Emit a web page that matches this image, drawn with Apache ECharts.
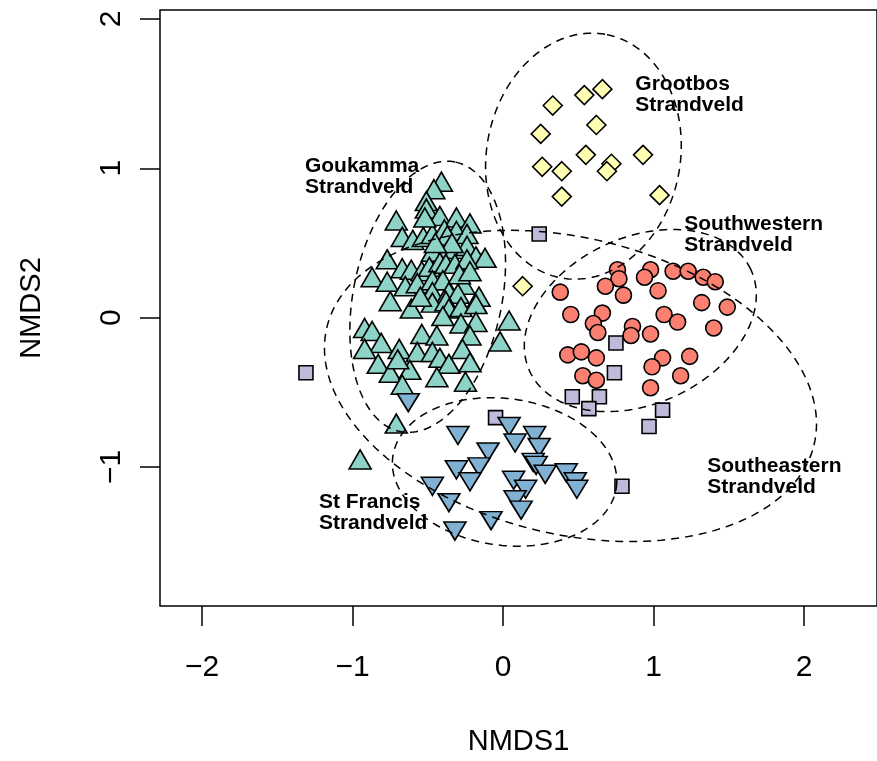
<!DOCTYPE html>
<html>
<head>
<meta charset="utf-8">
<script src="https://cdn.jsdelivr.net/npm/echarts@6.0.0/dist/echarts.min.js"></script>
<style>
html, body { margin: 0; padding: 0; background: #fff; }
#chart { width: 877px; height: 761px; }
</style>
</head>
<body>
<div id="chart"></div>
<script>
// NMDS scores, one array per site group: [NMDS1, NMDS2]
var goukamma = [
  [-0.41,0.91],[-0.46,0.86],[-0.51,0.78],[-0.51,0.73],[-0.71,0.65],[-0.42,0.68],[-0.31,0.67],[-0.22,0.63],
  [-0.67,0.54],[-0.60,0.52],[-0.53,0.54],[-0.47,0.56],[-0.39,0.59],[-0.31,0.58],[-0.24,0.56],[-0.37,0.55],
  [-0.47,0.44],[-0.38,0.43],[-0.32,0.46],[-0.24,0.48],[-0.18,0.41],[-0.12,0.40],[-0.77,0.39],[-0.67,0.33],
  [-0.61,0.32],[-0.54,0.31],[-0.49,0.34],[-0.42,0.37],[-0.38,0.36],[-0.32,0.36],[-0.24,0.39],[-0.87,0.27],
  [-0.77,0.24],[-0.65,0.21],[-0.57,0.23],[-0.47,0.25],[-0.40,0.25],[-0.26,0.22],[-0.47,0.17],[-0.36,0.17],
  [-0.39,0.12],[-0.30,0.16],[-0.16,0.14],[-0.75,0.11],[-0.61,0.06],[-0.47,0.10],[-0.38,0.11],[-0.36,0.06],
  [-0.28,0.07],[-0.18,0.09],[-0.40,0.01],[-0.28,-0.04],[-0.18,-0.03],[0.04,-0.02],[-0.92,-0.07],[-0.87,-0.09],
  [-0.81,-0.17],[-0.54,-0.11],[-0.44,-0.12],[-0.22,-0.12],[-0.02,-0.16],[-0.92,-0.21],[-0.69,-0.21],[-0.57,-0.23],
  [-0.47,-0.23],[-0.42,-0.27],[-0.36,-0.31],[-0.27,-0.21],[-0.22,-0.30],[-0.83,-0.31],[-0.75,-0.37],[-0.62,-0.35],
  [-0.70,-0.28],[-0.44,-0.40],[-0.25,-0.43],[-0.67,-0.45],[-0.71,-0.71],[-0.95,-0.95],[-0.52,0.67],[-0.34,0.50],
  [-0.45,0.50],[-0.29,0.29],[-0.55,0.14],[-0.22,0.31]
];
var grootbos = [
  [0.66,1.53],[0.54,1.49],[0.33,1.42],[0.25,1.23],[0.62,1.29],[0.55,1.09],[0.93,1.09],
  [0.72,1.03],[0.69,0.98],[0.26,1.01],[0.39,0.98],[0.39,0.81],[1.04,0.82],[0.13,0.21]
];
var southwestern = [
  [0.76,0.32],[0.77,0.26],[0.68,0.21],[0.80,0.15],[0.98,0.32],[0.94,0.27],[1.13,0.31],[1.23,0.31],
  [1.33,0.27],[1.41,0.24],[0.38,0.17],[1.03,0.18],[1.32,0.10],[1.49,0.07],[0.45,0.02],[0.66,0.03],
  [0.60,-0.04],[0.63,-0.10],[0.86,-0.06],[0.85,-0.12],[0.98,-0.11],[1.07,0.02],[1.16,-0.03],[1.40,-0.07],
  [0.43,-0.25],[0.52,-0.23],[0.62,-0.27],[1.06,-0.27],[0.99,-0.33],[1.24,-0.26],[0.53,-0.39],[0.62,-0.42],
  [1.18,-0.39],[0.98,-0.47]
];
var southeastern = [
  [0.24,0.56],[-1.31,-0.37],[0.75,-0.17],[0.74,-0.37],[0.46,-0.53],[0.64,-0.53],
  [0.57,-0.61],[1.06,-0.62],[0.97,-0.73],[0.79,-1.13],[-0.05,-0.67]
];
var stFrancis = [
  [-0.63,-0.57],[-0.30,-0.79],[0.04,-0.73],[0.08,-0.84],[0.21,-0.79],[0.24,-0.87],[-0.10,-0.90],[0.20,-0.97],
  [0.22,-0.99],[-0.31,-1.02],[-0.16,-1.00],[-0.22,-1.10],[0.28,-1.05],[0.42,-1.04],[0.48,-1.10],[0.49,-1.15],
  [0.07,-1.09],[0.15,-1.15],[0.08,-1.22],[0.12,-1.29],[-0.47,-1.13],[-0.36,-1.24],[-0.08,-1.36],[-0.32,-1.43]
];

// dispersion ellipses: [centre x, centre y, semi axis a, semi axis b, angle of a in degrees]
var ellipses = [
  [0.534, 1.081, 0.829, 0.644, 80],
  [-0.501, 0.139, 0.921, 0.494, 78.6],
  [0.912, -0.020, 0.810, 0.557, 25],
  [0.448, -0.458, 1.666, 0.992, -13.8],
  [0.010, -1.034, 0.750, 0.491, -8]
];

// group names and the top-left corner of each name in data units
var groupNames = ["Grootbos\nStrandveld", "Goukamma\nStrandveld", "Southwestern\nStrandveld",
  "Southeastern\nStrandveld", "St Francis\nStrandveld"];
var labelAnchors = [[0.879, 1.635], [-1.317, 1.084], [1.204, 0.693], [1.357, -0.925], [-1.224, -1.164]];

var xTicks = [-2, -1, 0, 1, 2];
var yTicks = [-1, 0, 1, 2];

var FONT = "'Liberation Sans', Arial, Helvetica, sans-serif";

function minusSign(v) {
  return String(v).replace('-', '\u2212');
}

function pointSeries(data, symbol, size, color, rotate) {
  return {
    type: 'scatter',
    data: data,
    symbol: symbol,
    symbolSize: size,
    symbolRotate: rotate || 0,
    itemStyle: { color: color, borderColor: '#000', borderWidth: 1.6, opacity: 1 },
    emphasis: { disabled: true },
    z: 3
  };
}

var chart = echarts.init(document.getElementById('chart'), null, { renderer: 'canvas' });

var option = {
  animation: false,
  backgroundColor: '#fff',
  grid: { left: 160, right: -1, top: 10, bottom: 149, show: true, borderColor: '#000', borderWidth: 1.5, backgroundColor: 'transparent' },
  xAxis: {
    type: 'value', min: -2.28, max: 2.485, position: 'bottom',
    name: 'NMDS1', nameLocation: 'middle', nameGap: 121,
    nameTextStyle: { fontFamily: FONT, fontSize: 29, color: '#000' },
    axisLine: { show: false, onZero: false },
    splitLine: { show: false },
    axisTick: { show: true, customValues: xTicks, length: 20, lineStyle: { color: '#000', width: 1.5 } },
    axisLabel: { customValues: xTicks, margin: 47, fontFamily: FONT, fontSize: 30, color: '#000', formatter: minusSign }
  },
  yAxis: {
    type: 'value', min: -1.932, max: 2.06, position: 'left',
    name: 'NMDS2', nameLocation: 'middle', nameGap: 114, nameRotate: 90,
    nameTextStyle: { fontFamily: FONT, fontSize: 29, color: '#000' },
    axisLine: { show: false, onZero: false },
    splitLine: { show: false },
    axisTick: { show: true, customValues: yTicks, length: 20, lineStyle: { color: '#000', width: 1.5 } },
    axisLabel: { customValues: yTicks, rotate: 90, margin: 33, fontFamily: FONT, fontSize: 30, color: '#000', formatter: minusSign }
  },
  series: [
    pointSeries(goukamma, 'triangle', [22, 19], '#8DD3C7'),
    pointSeries(grootbos, 'diamond', [19, 19], '#FFFFB3'),
    pointSeries(southwestern, 'circle', 16, '#FB8072'),
    pointSeries(southeastern, 'rect', 14, '#BEBADA'),
    pointSeries(stFrancis, 'triangle', [22, 18], '#80B1D3', 180),
    {
      type: 'custom',
      data: ellipses,
      encode: { x: 0, y: 1 },
      silent: true,
      z: 4,
      renderItem: function (params, api) {
        var cx = api.value(0), cy = api.value(1), a = api.value(2), b = api.value(3);
        var ang = api.value(4) * Math.PI / 180;
        var pts = [];
        for (var k = 0; k < 180; k++) {
          var t = 2 * Math.PI * k / 180;
          var ex = a * Math.cos(t), ey = b * Math.sin(t);
          pts.push(api.coord([cx + ex * Math.cos(ang) - ey * Math.sin(ang), cy + ex * Math.sin(ang) + ey * Math.cos(ang)]));
        }
        return {
          type: 'polygon',
          shape: { points: pts },
          style: { fill: 'none', stroke: '#000', lineWidth: 1.5, lineDash: [8, 6] }
        };
      }
    },
    {
      type: 'custom',
      data: labelAnchors,
      encode: { x: 0, y: 1 },
      silent: true,
      z: 6,
      renderItem: function (params, api) {
        var p = api.coord([api.value(0), api.value(1)]);
        return {
          type: 'text',
          x: p[0], y: p[1],
          style: {
            text: groupNames[params.dataIndex],
            fill: '#000',
            font: 'bold 21px ' + FONT,
            lineHeight: 21,
            textAlign: 'left',
            textVerticalAlign: 'top'
          }
        };
      }
    }
  ]
};

chart.setOption(option);
</script>
</body>
</html>
